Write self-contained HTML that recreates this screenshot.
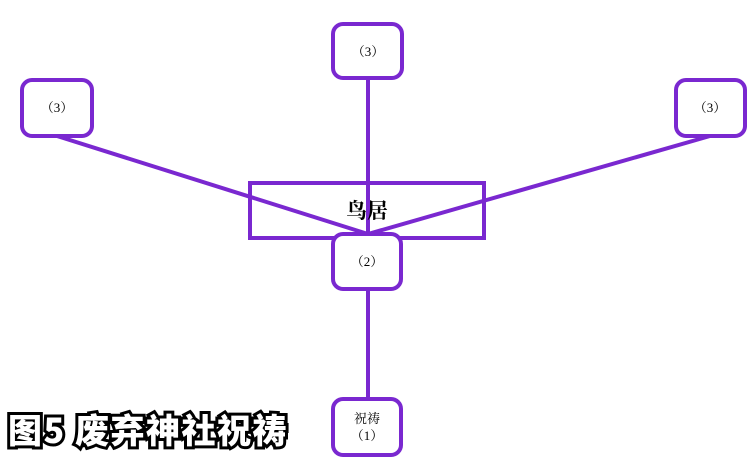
<!DOCTYPE html>
<html><head><meta charset="utf-8"><style>
body{margin:0;width:755px;height:466px;background:#fff;overflow:hidden;position:relative}
svg{position:absolute;left:0;top:0;font-family:"Liberation Serif","Noto Serif CJK SC",serif}
.t{position:absolute;left:8px;top:404px;font:900 34px "Noto Sans CJK SC","WenQuanYi Zen Hei",sans-serif;color:#fff;-webkit-text-stroke:6px #000;paint-order:stroke fill;letter-spacing:1.5px;white-space:nowrap}
</style></head><body>
<svg width="755" height="466">
<g stroke="#7a28d0" stroke-width="4" fill="none">
<line x1="368" y1="78" x2="368" y2="399"/>
<line x1="57" y1="136" x2="368" y2="234"/>
<line x1="710" y1="136" x2="368" y2="234"/>
<rect x="250" y="183" width="234" height="55"/>
</g>
<g stroke="#7a28d0" stroke-width="4" fill="#fff">
<rect x="333" y="24" width="69" height="54" rx="10"/>
<rect x="22" y="80" width="70" height="56" rx="10"/>
<rect x="676" y="80" width="69" height="56" rx="10"/>
<rect x="333" y="234" width="68" height="55" rx="10"/>
<rect x="333" y="399" width="68" height="56" rx="10"/>
</g>
<g font-size="13" text-anchor="middle" fill="#000">
<text x="368" y="56">（3）</text>
<text x="57" y="112">（3）</text>
<text x="710" y="112">（3）</text>
<text x="367" y="266">（2）</text>
<text x="367" y="423">祝祷</text>
<text x="367" y="440">（1）</text>
<text x="367" y="218" font-size="21" font-weight="bold">鸟居</text>
</g>
</svg>
<div class="t">图5 废弃神社祝祷</div>
</body></html>
